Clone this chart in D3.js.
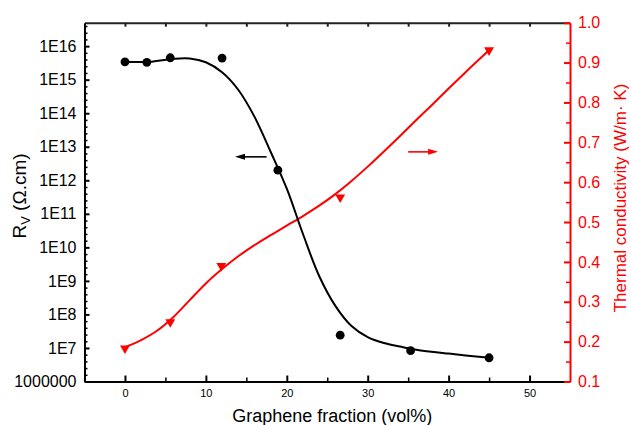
<!DOCTYPE html>
<html><head><meta charset="utf-8">
<script src="https://cdn.jsdelivr.net/npm/d3@7"></script>
<style>
body{margin:0;background:#fff}
svg{display:block}
text{font-family:"Liberation Sans",Arial,Helvetica,sans-serif}
</style>
</head><body>
<svg id="c" width="631" height="425"></svg>
<script>
// ---- data ----
const fraction = [0, 2.7, 5.6, 12.0, 18.9, 26.6, 35.3, 45.0];
const resistivity = [3.4e15, 3.3e15, 4.5e15, 4.4e15, 2.0e12, 2.4e7, 8.3e6, 5.1e6];

const tcFraction = [0, 5.6, 11.9, 26.6, 45.0];
const thermal = [0.183, 0.249, 0.390, 0.562, 0.931];

// fitted curves
const resFitX = [0, 3, 6, 8, 10, 12, 14, 16, 18, 20, 22, 24, 26, 28, 30, 32, 34, 36, 40, 45];
const resFitY = [3.4e15, 3.4e15, 4.2e15, 4.3e15, 3.3e15, 1.66e15, 5.0e14, 7.9e13, 7.1e12, 5.6e11, 2.5e10, 1.4e9, 1.8e8, 4.5e7, 2.1e7, 1.4e7, 1.1e7, 8.9e6, 6.8e6, 5.1e6];

const tcFitX = [0, 2, 4, 6, 8, 10, 12, 14, 16, 18, 20, 22, 24, 26, 28, 30, 32, 34, 36, 38, 40, 42, 45];
const tcFitY = [0.186, 0.204, 0.228, 0.262, 0.304, 0.346, 0.382, 0.414, 0.442, 0.467, 0.491, 0.515, 0.541, 0.570, 0.603, 0.639, 0.677, 0.716, 0.756, 0.795, 0.835, 0.874, 0.931];

const xTicks = [0, 10, 20, 30, 40, 50];
const xMinorTicks = [5, 15, 25, 35, 45];
const leftTicks = [1e6, 1e7, 1e8, 1e9, 1e10, 1e11, 1e12, 1e13, 1e14, 1e15, 1e16];
const leftTickLabels = ["1000000", "1E7", "1E8", "1E9", "1E10", "1E11", "1E12", "1E13", "1E14", "1E15", "1E16"];
const rightTicks = [0.1, 0.2, 0.3, 0.4, 0.5, 0.6, 0.7, 0.8, 0.9, 1.0];
const rightMinorTicks = [0.15, 0.25, 0.35, 0.45, 0.55, 0.65, 0.75, 0.85, 0.95];

const xTitle = "Graphene fraction (vol%)";
const rightTitle = "Thermal conductivity (W/m\u00B7 K)";

// annotation arrows (data coordinates)
const blackArrow = {x1: 17.5, x2: 13.6, y: 5e12};
const redArrow = {x1: 35.0, x2: 38.7, y: 0.676};

// ---- layout ----
const L = 84.5, R = 570, T = 22.7, B = 381.5;
const RED = "#ff0000";
const svg = d3.select("#c");

const x = d3.scaleLinear().domain([-5, 55]).range([L, R]);
const yL = d3.scaleLog().domain([1e6, 5e16]).range([B, T]);
const yR = d3.scaleLinear().domain([0.1, 1.0]).range([B, T]);

const leftMinor = [];
for (let n = 6; n <= 16; n++) for (let k = 1; k <= 4; k++) {
  const v = Math.pow(10, n + 0.2 * k);
  if (v <= 5e16) leftMinor.push(v);
}

function style(g, color, width) {
  g.selectAll("path.domain").attr("stroke", color).attr("stroke-width", width);
  g.selectAll(".tick line").attr("stroke", color).attr("stroke-width", width);
}

// minor ticks
svg.append("g").attr("transform", `translate(${L},0)`)
  .call(d3.axisLeft(yL).tickValues(leftMinor).tickSize(-3).tickSizeOuter(0).tickFormat(""))
  .call(g => { g.select(".domain").remove(); style(g, "#000", 1.5); });
svg.append("g").attr("transform", `translate(0,${B})`)
  .call(d3.axisBottom(x).tickValues(xMinorTicks).tickSize(-4).tickSizeOuter(0).tickFormat(""))
  .call(g => { g.select(".domain").remove(); style(g, "#000", 1.5); });
svg.append("g").attr("transform", `translate(${R},0)`)
  .call(d3.axisRight(yR).tickValues(rightMinorTicks).tickSize(-4).tickSizeOuter(0).tickFormat(""))
  .call(g => { g.select(".domain").remove(); style(g, RED, 1.5); });

// top axis (ticks only, no labels)
svg.append("g").attr("transform", `translate(0,${T})`)
  .call(d3.axisTop(x).tickValues(xTicks.concat(xMinorTicks)).tickSize(-4).tickSizeOuter(0).tickFormat(""))
  .call(g => style(g, "#222", 2));

// left axis
svg.append("g").attr("transform", `translate(${L},0)`)
  .call(d3.axisLeft(yL).tickValues(leftTicks).tickSize(-5).tickSizeOuter(0).tickPadding(8)
    .tickFormat((d, i) => leftTickLabels[i]))
  .call(g => {
    style(g, "#000", 2);
    g.selectAll("text").attr("font-size", 16).attr("fill", "#000")
      .attr("font-family", '"Liberation Sans",Arial,sans-serif');
  });

// bottom axis
svg.append("g").attr("transform", `translate(0,${B})`)
  .call(d3.axisBottom(x).tickValues(xTicks).tickSize(-6).tickSizeOuter(0).tickPadding(8))
  .call(g => {
    style(g, "#000", 2);
    g.selectAll("text").attr("font-size", 11).attr("fill", "#000")
      .attr("font-family", '"Liberation Sans",Arial,sans-serif');
  });

// right axis
svg.append("g").attr("transform", `translate(${R},0)`)
  .call(d3.axisRight(yR).tickValues(rightTicks).tickSize(-6).tickSizeOuter(0).tickPadding(8)
    .tickFormat(d3.format(".1f")))
  .call(g => {
    style(g, RED, 2);
    g.selectAll("text").attr("font-size", 16).attr("fill", RED)
      .attr("font-family", '"Liberation Sans",Arial,sans-serif');
  });

// fitted curves
const resLine = d3.line().x(d => x(d[0])).y(d => yL(d[1])).curve(d3.curveCatmullRom.alpha(0.5));
const tcLine = d3.line().x(d => x(d[0])).y(d => yR(d[1])).curve(d3.curveMonotoneX);

svg.append("path").datum(tcFitX.map((v, i) => [v, tcFitY[i]]))
  .attr("d", tcLine).attr("fill", "none").attr("stroke", RED).attr("stroke-width", 2);
svg.append("path").datum(resFitX.map((v, i) => [v, resFitY[i]]))
  .attr("d", resLine).attr("fill", "none").attr("stroke", "#000").attr("stroke-width", 2);

// markers
svg.append("g").selectAll("circle").data(fraction).join("circle")
  .attr("cx", d => x(d)).attr("cy", (d, i) => yL(resistivity[i])).attr("r", 4.4).attr("fill", "#000");

const tri = d3.symbol().type(d3.symbolTriangle).size(42);
svg.append("g").selectAll("path").data(tcFraction).join("path")
  .attr("d", tri)
  .attr("transform", (d, i) => `translate(${x(d)},${yR(thermal[i])}) rotate(180)`)
  .attr("fill", RED);

// arrows
function arrow(x1, x2, y, color) {
  const dir = Math.sign(x2 - x1);
  svg.append("line").attr("x1", x1).attr("x2", x2 - dir * 8).attr("y1", y).attr("y2", y)
    .attr("stroke", color).attr("stroke-width", 1.6);
  svg.append("path")
    .attr("d", `M${x2},${y} L${x2 - dir * 10},${y - 3} L${x2 - dir * 10},${y + 3} Z`)
    .attr("fill", color);
}
arrow(x(blackArrow.x1), x(blackArrow.x2), yL(blackArrow.y), "#000");
arrow(x(redArrow.x1), x(redArrow.x2), yR(redArrow.y), RED);

// axis titles
svg.append("text").attr("x", (L + R) / 2 + 5).attr("y", 422).attr("text-anchor", "middle")
  .attr("font-size", 18).attr("fill", "#000").text(xTitle);

const rv = svg.append("text").attr("transform", `translate(26,196) rotate(-90)`)
  .attr("text-anchor", "middle").attr("font-size", 19).attr("fill", "#000");
rv.append("tspan").text("R");
rv.append("tspan").attr("font-size", 13).attr("dy", 4).text("V");
rv.append("tspan").attr("dy", -4).text(" (\u03A9.cm)");

svg.append("text").attr("transform", `translate(626,198) rotate(-90)`)
  .attr("text-anchor", "middle").attr("font-size", 17).attr("fill", RED).text(rightTitle);
</script>
</body></html>
